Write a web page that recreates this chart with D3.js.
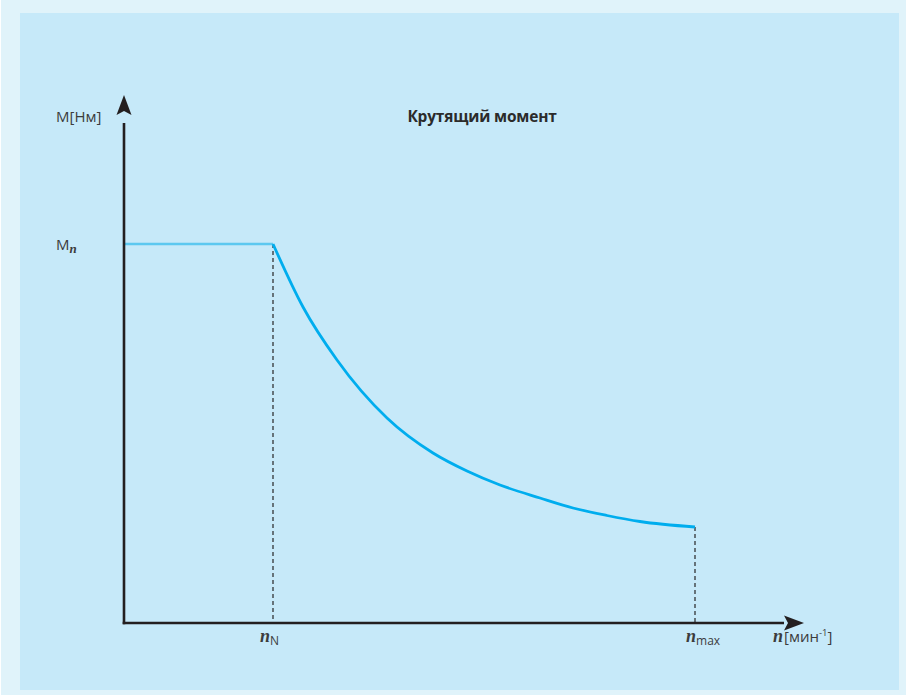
<!DOCTYPE html>
<html>
<head>
<meta charset="utf-8">
<script src="https://cdn.jsdelivr.net/npm/d3@7"></script>
<style>
  html, body { margin: 0; padding: 0; background: #ffffff; }
  svg { display: block; }
</style>
</head>
<body>
<script>
// ---- data (relative units) ----
const title = "Крутящий момент";
const yAxisLabel = "M[Нм]";
const nRated = 149;      // n_N
const nMax = 571;        // n_max
const mRated = 379;      // M_n
// constant-torque segment
const flatN = [0, 149];
const flatM = [379, 379];
// field-weakening curve
const curveN = [149, 179, 213, 263, 309, 343, 376, 416, 449, 483, 516, 571];
const curveM = [379, 316, 263, 205, 170, 152, 138, 125, 115, 107.5, 101.5, 96];

const W = 906, H = 695;
const svg = d3.select("body").append("svg").attr("width", W).attr("height", H);

// backgrounds
svg.append("rect").attr("x", 1).attr("y", 0).attr("width", W - 1).attr("height", H).attr("fill", "#e0f3fa");
svg.append("rect").attr("x", 20).attr("y", 13).attr("width", 879).attr("height", 677).attr("fill", "#c6e9f9");

const x = d3.scaleLinear().domain([0, 680]).range([124, 804]);
const y = d3.scaleLinear().domain([0, 528]).range([623, 95]);

const axisColor = "#231f20";
const textColor = "#3c3c3c";

// dashed guides
svg.append("line")
  .attr("x1", x(nRated)).attr("x2", x(nRated))
  .attr("y1", y(mRated)).attr("y2", y(0))
  .attr("stroke", "#3d4145").attr("stroke-width", 1.4).attr("stroke-dasharray", "4,3");
svg.append("line")
  .attr("x1", x(nMax)).attr("x2", x(nMax))
  .attr("y1", y(curveM[curveM.length - 1])).attr("y2", y(0))
  .attr("stroke", "#3d4145").attr("stroke-width", 1.4).attr("stroke-dasharray", "4,3");

// flat segment
const line = d3.line().x(d => x(d[0])).y(d => y(d[1]));
svg.append("path")
  .datum(flatN.map((n, i) => [n, flatM[i]]))
  .attr("d", line)
  .attr("fill", "none").attr("stroke", "#5cc8f0").attr("stroke-width", 2.6);

// curve
svg.append("path")
  .datum(curveN.map((n, i) => [n, curveM[i]]))
  .attr("d", line.curve(d3.curveMonotoneX))
  .attr("fill", "none").attr("stroke", "#00adee").attr("stroke-width", 2.8);

// axes
svg.append("line").attr("x1", x(0)).attr("x2", x(0)).attr("y1", y(0) + 1.3).attr("y2", y(500))
  .attr("stroke", axisColor).attr("stroke-width", 2.6);
svg.append("line").attr("x1", x(0) - 1.3).attr("x2", x(660)).attr("y1", y(0)).attr("y2", y(0))
  .attr("stroke", axisColor).attr("stroke-width", 2.6);

// arrowheads
const ax = x(0), ayTip = y(528);
svg.append("path")
  .attr("d", `M${ax},${ayTip} L${ax + 7.5},${ayTip + 20} L${ax},${ayTip + 16} L${ax - 7.5},${ayTip + 20} Z`)
  .attr("fill", axisColor);
const bxTip = x(680), by = y(0);
svg.append("path")
  .attr("d", `M${bxTip},${by} L${bxTip - 20},${by + 7.5} L${bxTip - 16},${by} L${bxTip - 20},${by - 7.5} Z`)
  .attr("fill", axisColor);

const sans = "'Open Sans', 'Noto Sans', sans-serif";
const serif = "'Liberation Serif', 'DejaVu Serif', serif";

// title
svg.append("text").attr("x", 482).attr("y", 122).attr("text-anchor", "middle")
  .attr("font-family", sans).attr("font-weight", 700).attr("font-size", 15.5)
  .attr("fill", "#2b2b2b").attr("letter-spacing", -0.2).text(title);

// y label
svg.append("text").attr("x", 56).attr("y", 122)
  .attr("font-family", sans).attr("font-size", 15).attr("fill", textColor).text(yAxisLabel);

// M_n
const mn = svg.append("text").attr("x", 56).attr("y", y(mRated) + 6)
  .attr("font-family", sans).attr("font-size", 15).attr("fill", textColor);
mn.append("tspan").text("M");
mn.append("tspan").attr("font-family", serif).attr("font-style", "italic").attr("font-weight", 700)
  .attr("font-size", 13).attr("dy", 3).text("n");

// n_N
const nN = svg.append("text").attr("x", x(nRated) - 13).attr("y", 642)
  .attr("fill", textColor).attr("font-family", serif);
nN.append("tspan").attr("font-style", "italic").attr("font-weight", 700).attr("font-size", 18).text("n");
nN.append("tspan").attr("font-family", sans).attr("font-size", 12).attr("dy", 3).text("N");

// n_max
const nM = svg.append("text").attr("x", x(nMax) - 9).attr("y", 642)
  .attr("fill", textColor).attr("font-family", serif);
nM.append("tspan").attr("font-style", "italic").attr("font-weight", 700).attr("font-size", 18).text("n");
nM.append("tspan").attr("font-family", sans).attr("font-size", 12).attr("dy", 3).text("max");

// x label
const xl = svg.append("text").attr("x", 773).attr("y", 642).attr("fill", textColor).attr("font-family", serif);
xl.append("tspan").attr("font-style", "italic").attr("font-weight", 700).attr("font-size", 18).text("n");
xl.append("tspan").attr("font-family", sans).attr("font-size", 15).attr("dx", 1).text("[мин");
xl.append("tspan").attr("font-family", sans).attr("font-size", 9.5).attr("dy", -6).text("-1");
xl.append("tspan").attr("font-family", sans).attr("font-size", 15).attr("dy", 6).text("]");
</script>
</body>
</html>
